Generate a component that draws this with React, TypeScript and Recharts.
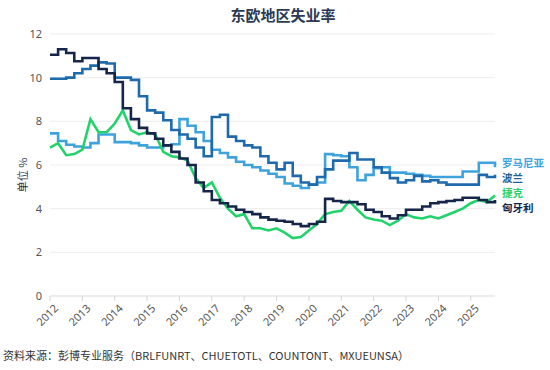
import React from 'react';
import { CartesianGrid, Line, LineChart, XAxis, YAxis } from 'recharts';

// quarterly observations, Jan 2012 .. Oct 2025
const quarters = [
  '2012-01', '2012-04', '2012-07', '2012-10',
  '2013-01', '2013-04', '2013-07', '2013-10',
  '2014-01', '2014-04', '2014-07', '2014-10',
  '2015-01', '2015-04', '2015-07', '2015-10',
  '2016-01', '2016-04', '2016-07', '2016-10',
  '2017-01', '2017-04', '2017-07', '2017-10',
  '2018-01', '2018-04', '2018-07', '2018-10',
  '2019-01', '2019-04', '2019-07', '2019-10',
  '2020-01', '2020-04', '2020-07', '2020-10',
  '2021-01', '2021-04', '2021-07', '2021-10',
  '2022-01', '2022-04', '2022-07', '2022-10',
  '2023-01', '2023-04', '2023-07', '2023-10',
  '2024-01', '2024-04', '2024-07', '2024-10',
  '2025-01', '2025-04', '2025-07', '2025-10',
];

const romania = [
  7.45, 7.1, 6.93, 6.85, 6.8, 7.0, 7.4, 7.4, 7.05, 7.05, 7.0, 6.9,
  6.8, 6.8, 6.9, 6.95, 8.1, 7.8, 7.5, 7.1, 6.7, 6.55, 6.35, 6.15,
  6.0, 5.9, 5.75, 5.6, 5.45, 5.15, 5.05, 4.95, 5.1, 5.2, 6.5, 6.45,
  6.4, 5.9, 5.3, 5.55, 5.85, 5.9, 5.65, 5.65, 5.6, 5.55, 5.5, 5.45,
  5.45, 5.45, 5.45, 5.7, 5.7, 6.1, 6.1, 5.9,
];
const poland = [
  9.95, 9.95, 10.0, 10.2, 10.4, 10.55, 10.7, 10.65, 10.0, 10.0, 9.9, 9.15,
  8.5, 8.4, 8.05, 7.6, 7.4, 7.2, 6.8, 6.4, 8.2, 8.3, 7.3, 7.1,
  6.9, 6.8, 6.4, 6.1, 5.8, 6.1, 5.5, 5.2, 5.1, 5.45, 5.8, 6.2,
  6.2, 6.55, 6.25, 6.25, 5.9, 5.65, 5.4, 5.2, 5.3, 5.5, 5.25, 5.3,
  5.2, 5.1, 5.1, 5.1, 5.1, 5.55, 5.45, 5.55,
];
const czech = [
  6.8, 7.0, 6.45, 6.5, 6.7, 8.1, 7.5, 7.5, 7.9, 8.5, 7.6, 7.4,
  7.5, 7.4, 6.6, 6.4, 6.35, 6.2, 5.4, 4.95, 5.2, 4.5, 4.0, 3.65,
  3.75, 3.1, 3.1, 3.0, 3.1, 2.9, 2.65, 2.7, 3.0, 3.3, 3.75, 3.85,
  3.9, 4.35, 3.95, 3.6, 3.5, 3.45, 3.25, 3.45, 3.75, 3.6, 3.55, 3.65,
  3.55, 3.7, 3.85, 4.0, 4.25, 4.4, 4.3, 4.6,
];
const hungary = [
  11.05, 11.3, 11.13, 10.75, 10.9, 10.9, 10.4, 10.2, 9.8, 8.6, 8.1, 7.7,
  7.45, 7.2, 6.9, 6.6, 6.3, 6.0, 5.2, 4.8, 4.4, 4.25, 4.1, 3.95,
  3.85, 3.75, 3.6, 3.5, 3.45, 3.4, 3.3, 3.2, 3.3, 3.4, 4.45, 4.35,
  4.3, 4.3, 4.2, 3.95, 3.85, 3.65, 3.55, 3.7, 3.95, 3.95, 4.1, 4.25,
  4.3, 4.35, 4.4, 4.5, 4.5, 4.4, 4.3, 4.4,
];

const yearTicks = [2012, 2013, 2014, 2015, 2016, 2017, 2018, 2019, 2020, 2021, 2022, 2023, 2024, 2025];
const yTicks = [0, 2, 4, 6, 8, 10, 12];

const seriesLabels = [
  { name: '罗马尼亚', color: '#3ea3dc', top: 157 },
  { name: '波兰', color: '#1f5f9c', top: 172 },
  { name: '捷克', color: '#22d36c', top: 187 },
  { name: '匈牙利', color: '#16264a', top: 202 },
];

const data = quarters.map((q, i) => {
  const [y, m] = q.split('-').map(Number);
  return {
    t: y + (m - 1) / 12,
    romania: romania[i],
    poland: poland[i],
    czech: czech[i],
    hungary: hungary[i],
  };
});

const cjk = '"Noto Sans CJK SC", "Noto Sans", sans-serif';

const YearTick = (props: any) => {
  const { x, y, payload } = props;
  return (
    <g transform={`translate(${x + 9},${y + 6})`}>
      <text textAnchor="end" transform="rotate(-45)" fill="#555" fontSize={11} fontFamily="Noto Sans, sans-serif">
        {payload.value}
      </text>
    </g>
  );
};

const App: React.FC = () => {
  return (
    <div style={{ position: 'absolute', left: 0, top: 0, width: 550, height: 370, background: '#fff', fontFamily: cjk }}>
      <div style={{ position: 'absolute', left: 0, width: 550, top: 4, textAlign: 'center', paddingLeft: 16, boxSizing: 'border-box', fontSize: 15, fontWeight: 700, color: '#2b3a55' }}>
        东欧地区失业率
      </div>

      <LineChart width={550} height={370} data={data} margin={{ top: 34, right: 55, left: 20, bottom: 44 }}>
        <CartesianGrid horizontal vertical={false} stroke="#ededed" />
        <XAxis
          dataKey="t"
          type="number"
          domain={[2012, 2025.75]}
          ticks={yearTicks}
          interval={0}
          height={30}
          axisLine={{ stroke: '#e3e3e3' }}
          tickLine={{ stroke: '#d5d5d5' }}
          tickSize={5}
          tick={<YearTick />}
        />
        <YAxis
          domain={[0, 12]}
          ticks={yTicks}
          width={30}
          axisLine={false}
          tickLine={false}
          tick={{ fill: '#555', fontSize: 11, fontFamily: 'Noto Sans, sans-serif' }}
        />
        <Line type="stepAfter" dataKey="romania" stroke="#3ea3dc" strokeWidth={2.6} dot={false} isAnimationActive={false} />
        <Line type="stepAfter" dataKey="poland" stroke="#1f6aac" strokeWidth={2.6} dot={false} isAnimationActive={false} />
        <Line type="linear" dataKey="czech" stroke="#22d36c" strokeWidth={2.6} dot={false} isAnimationActive={false} />
        <Line type="stepAfter" dataKey="hungary" stroke="#16264a" strokeWidth={2.6} dot={false} isAnimationActive={false} />
      </LineChart>

      <div style={{ position: 'absolute', left: 0, top: 168, width: 44, textAlign: 'center', lineHeight: '14px', transform: 'rotate(-90deg)', transformOrigin: 'center', fontSize: 11, color: '#2b3a55', whiteSpace: 'nowrap' }}>
        单位 %
      </div>

      {seriesLabels.map((s) => (
        <div key={s.name} style={{ position: 'absolute', left: 502, top: s.top, lineHeight: '12px', height: 12, fontSize: 10.5, fontWeight: 700, color: s.color, whiteSpace: 'nowrap' }}>
          {s.name}
        </div>
      ))}

      <div style={{ position: 'absolute', left: 3, top: 347, fontSize: 11, color: '#333', whiteSpace: 'nowrap' }}>
        资料来源：彭博专业服务（BRLFUNRT、CHUETOTL、COUNTONT、MXUEUNSA）
      </div>
    </div>
  );
};

export default App;
